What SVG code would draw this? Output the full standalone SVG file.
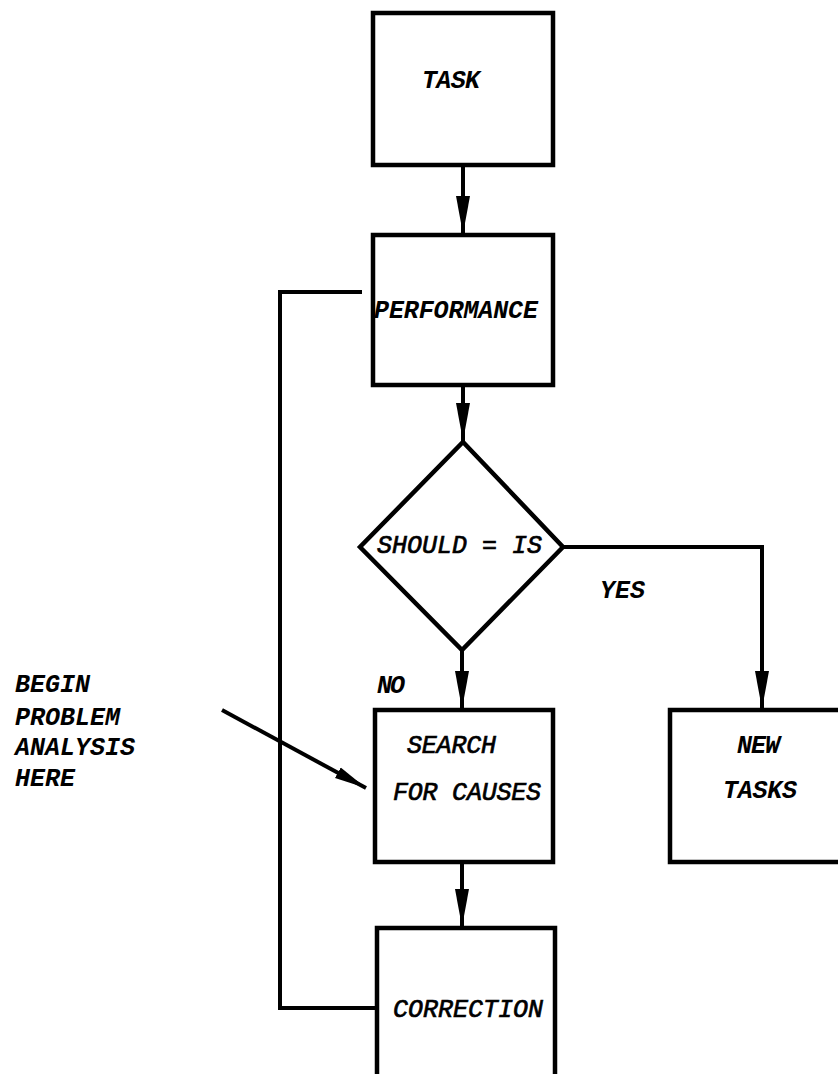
<svg xmlns="http://www.w3.org/2000/svg" width="838" height="1074" viewBox="0 0 838 1074">
<style>
.box{fill:#fff;stroke:#000;stroke-width:4.5}
.ln{fill:none;stroke:#000;stroke-width:4}
.t{font-family:"Liberation Mono","Courier New",monospace;font-style:italic;font-size:25px;fill:#000}
.b{font-weight:bold}
.m{stroke:#000;stroke-width:0.7}
</style>
<defs>
<marker id="ah" markerUnits="userSpaceOnUse" viewBox="0 -8 40 16" refX="38" refY="0" markerWidth="40" markerHeight="16" orient="auto">
<path d="M0,-7 L38,0 L0,7 Z" fill="#000"/>
</marker>
<marker id="ah2" markerUnits="userSpaceOnUse" viewBox="0 -7 34 14" refX="32" refY="0" markerWidth="34" markerHeight="14" orient="auto">
<path d="M0,-6 L32,0 L0,6 Z" fill="#000"/>
</marker>
</defs>
<g id="connectors">
<path class="ln" d="M463,165 V234" marker-end="url(#ah)"/>
<path class="ln" d="M463,385 V441" marker-end="url(#ah)"/>
<path class="ln" d="M462,650 V709" marker-end="url(#ah)"/>
<path class="ln" d="M563,547 H762 V709" marker-end="url(#ah)"/>
<path class="ln" d="M462,862 V927" marker-end="url(#ah)"/>
<path class="ln" d="M375,1008 H280 V292 H362"/>
<path class="ln" d="M222,710 L366,788" marker-end="url(#ah2)"/>
</g>
<g id="task">
<rect class="box" x="373" y="13" width="180" height="152"/>
<text class="t b" x="422" y="88" textLength="58">TASK</text>
</g>
<g id="performance">
<rect class="box" x="373" y="235" width="180" height="150"/>
<text class="t b" x="374" y="318" textLength="164">PERFORMANCE</text>
</g>
<g id="decision">
<path class="box" d="M463,442 L563,547 L462,650 L360,547 Z"/>
<text class="t m" x="377" y="553" textLength="165">SHOULD = IS</text>
</g>
<g id="labels">
<text class="t b" x="600" y="598" textLength="45">YES</text>
<text class="t b" x="377" y="693" textLength="28">NO</text>
</g>
<g id="search">
<rect class="box" x="375" y="710" width="178" height="152"/>
<text class="t m" x="407" y="753" textLength="89">SEARCH</text>
<text class="t m" x="393" y="800" textLength="148">FOR CAUSES</text>
</g>
<g id="newtasks">
<rect class="box" x="670" y="710" width="180" height="152"/>
<text class="t b" x="737" y="753" textLength="43">NEW</text>
<text class="t b" x="723" y="798" textLength="74">TASKS</text>
</g>
<g id="correction">
<rect class="box" x="377" y="928" width="178" height="160"/>
<text class="t m" x="393" y="1017" textLength="150">CORRECTION</text>
</g>
<g id="note">
<text class="t b" x="15" y="692" textLength="75">BEGIN</text>
<text class="t b" x="15" y="725" textLength="105">PROBLEM</text>
<text class="t b" x="15" y="755" textLength="120">ANALYSIS</text>
<text class="t b" x="15" y="786" textLength="60">HERE</text>
</g>
</svg>
